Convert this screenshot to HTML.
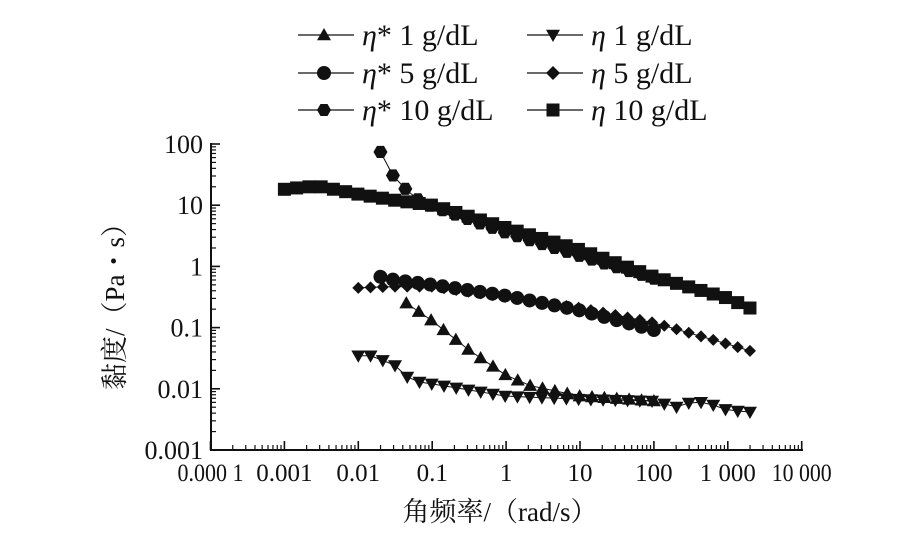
<!DOCTYPE html>
<html><head><meta charset="utf-8"><style>
html,body{margin:0;padding:0;background:#fff;width:911px;height:540px;overflow:hidden}
svg{display:block}
text{font-family:"Liberation Serif","Noto Serif CJK SC",serif;fill:#111}
</style></head><body>
<svg id="s" width="911" height="540" viewBox="0 0 911 540" xmlns="http://www.w3.org/2000/svg">
<g id="g" stroke="#111" fill="#111"></g>
<text x="500" y="521" font-size="27" text-anchor="middle">角频率/（rad/s）</text>
<text transform="translate(124,300) rotate(-90)" font-size="27" text-anchor="middle">黏度/（Pa・s）</text>
</svg>
<script>
const g=document.getElementById('g');const NS='http://www.w3.org/2000/svg';
function el(t,a,txt){const e=document.createElementNS(NS,t);for(const k in a)e.setAttribute(k,a[k]);if(txt!==undefined)e.textContent=txt;g.appendChild(e);return e;}
const X=l=>210.5+73.9*(l+4), Y=l=>450-61.2*(l+3);
el('line',{x1:211,y1:450,x2:803,y2:450,'stroke-width':2});
el('line',{x1:211,y1:143,x2:211,y2:451,'stroke-width':2});
for(let d=-4;d<=4;d++){el('line',{x1:X(d),y1:450,x2:X(d),y2:441,'stroke-width':1.6});
 if(d<4)for(let m=2;m<10;m++){const x=X(d+Math.log10(m));el('line',{x1:x,y1:450,x2:x,y2:445,'stroke-width':1.2});}}
for(let d=-3;d<=2;d++){el('line',{x1:211,y1:Y(d),x2:220,y2:Y(d),'stroke-width':1.6});
 if(d<2)for(let m=2;m<10;m++){const y=Y(d+Math.log10(m));el('line',{x1:211,y1:y,x2:216,y2:y,'stroke-width':1.2});}}
const xl=['0.000 1','0.001','0.01','0.1','1','10','100','1 000','10 000'];
const xw={'0.000 1':66,'1 000':56,'10 000':60};
xl.forEach((t,i)=>{const a={x:X(i-4),y:481,'font-size':25,'text-anchor':'middle',stroke:'none'};if(xw[t]){a.textLength=xw[t];a.lengthAdjust='spacingAndGlyphs';}el('text',a,t);});
['0.001','0.01','0.1','1','10','100'].forEach((t,i)=>el('text',{x:203,y:Y(i-3)+9,'font-size':26,'text-anchor':'end',stroke:'none'},t));
function mk(type,x,y,s){s=s||7;
 if(type=='sq')el('rect',{x:x-s,y:y-s,width:2*s,height:2*s,stroke:'none'});
 else if(type=='ci')el('circle',{cx:x,cy:y,r:s,stroke:'none'});
 else if(type=='tu')el('polygon',{points:`${x},${y-s} ${x-s},${y+s*0.75} ${x+s},${y+s*0.75}`,stroke:'none'});
 else if(type=='td')el('polygon',{points:`${x},${y+s} ${x-s},${y-s*0.75} ${x+s},${y-s*0.75}`,stroke:'none'});
 else if(type=='di')el('polygon',{points:`${x},${y-s} ${x+s},${y} ${x},${y+s} ${x-s},${y}`,stroke:'none'});
 else if(type=='hx'){let p=[];for(let k=0;k<6;k++){const a=Math.PI/3*k;p.push((x+s*Math.cos(a))+','+(y+s*Math.sin(a)));}el('polygon',{points:p.join(' '),stroke:'none'});}
}
function interp(pts,l){for(let i=0;i<pts.length-1;i++){if(l>=pts[i][0]-1e-9&&l<=pts[i+1][0]+1e-9){const t=(l-pts[i][0])/(pts[i+1][0]-pts[i][0]);return pts[i][1]+t*(pts[i+1][1]-pts[i][1]);}}return pts[pts.length-1][1];}
function series(type,pts,l0,l1){const n=Math.round((l1-l0)*6);let ls=[];for(let i=0;i<=n;i++)ls.push(l0+(l1-l0)*i/n);
 const P=ls.map(l=>[X(l),Y(interp(pts,l))]);
 el('polyline',{points:P.map(p=>p.join(',')).join(' '),fill:'none','stroke-width':1});
 P.forEach(p=>mk(type,p[0],p[1],type=='sq'?6.5:(type=='di'?6:7)));}
series('sq',[[-3,1.26],[-2.7,1.3],[-2.5,1.3],[-2,1.18],[-1.5,1.08],[-1,1.0],[0,0.63],[1,0.27],[2,-0.17],[3,-0.52],[3.3,-0.68]],-3,3.3);
series('hx',[[-1.7,1.87],[-1.52,1.46],[-1.35,1.25],[-1.15,1.05],[-1,0.98],[0,0.55],[1,0.17],[2,-0.2]],-1.7,2);
series('ci',[[-1.7,-0.17],[-1.52,-0.22],[-1,-0.3],[0,-0.48],[1,-0.72],[2,-1.04]],-1.7,2);
series('di',[[-2,-0.35],[-1.5,-0.33],[-1,-0.33],[0,-0.5],[1,-0.68],[2,-0.92],[3,-1.27],[3.3,-1.38]],-2,3.3);
series('tu',[[-1.35,-0.6],[-1,-0.89],[-0.5,-1.37],[0,-1.78],[0.33,-1.95],[1,-2.12],[2,-2.2]],-1.35,2);
series('td',[[-2,-1.46],[-1.82,-1.46],[-1.5,-1.62],[-1.35,-1.8],[-1.15,-1.9],[-1,-1.92],[0,-2.12],[1,-2.17],[2,-2.2],[2.3,-2.3],[2.5,-2.22],[2.7,-2.22],[3,-2.35],[3.3,-2.38]],-2,3.3);
const lg=[['tu','η','* 1 g/dL',298,35],['ci','η','* 5 g/dL',298,73],['hx','η','* 10 g/dL',298,110],
 ['td','η',' 1 g/dL',527,35],['di','η',' 5 g/dL',527,73],['sq','η',' 10 g/dL',527,110]];
lg.forEach(([t,a,b,x,y])=>{el('line',{x1:x,y1:y,x2:x+56,y2:y,'stroke-width':1.2});mk(t,x+26,y,t=='sq'?6.5:7);
 const e=el('text',{x:x+64,y:y+10,'font-size':30,stroke:'none'});const s1=document.createElementNS(NS,'tspan');s1.setAttribute('font-style','italic');s1.textContent=a;e.appendChild(s1);e.appendChild(document.createTextNode(b));});
</script>
</body></html>
